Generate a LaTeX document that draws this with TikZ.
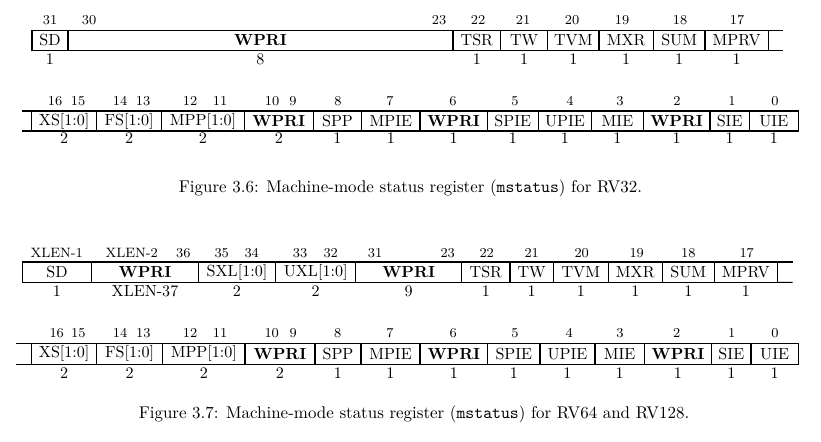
\documentclass[tikz,border=0pt]{standalone}
\usetikzlibrary{calc}
\def\pxu{0.5903}
\newcommand{\fieldfont}{\fontsize{9.5}{11.5}\selectfont}
\tikzset{
  cellbox/.style={draw, line width=0.6pt, inner sep=0pt, outer sep=0pt, font=\fieldfont},
  bitnum/.style={anchor=base, inner sep=0pt, font=\footnotesize},
  widthnum/.style={anchor=base, inner sep=0pt, font=\fieldfont},
  regline/.style={line width=0.6pt},
  captext/.style={anchor=base, inner sep=0pt, font=\normalsize}
}
% name, x1, x2, ytop, ybot, text
\newcommand{\regcell}[6]{%
  \pgfmathsetmacro\rcw{(#3-#2)*\pxu}%
  \pgfmathsetmacro\rch{(#5-#4)*\pxu}%
  \node[cellbox, minimum width=\rcw pt, minimum height=\rch pt] (#1) at ({(#2+#3)/2},{(#4+#5)/2}) {#6};%
}
\begin{document}
\begin{tikzpicture}[x=0.5903pt,y=-0.5903pt]
\useasboundingbox (0,0) rectangle (821,442);

% ===== Figure 3.6, row 1 =====
\def\ta{30.5}\def\bb{50.5}
\regcell{sdA}{32}{68}{\ta}{\bb}{SD}
\regcell{wpriA}{68}{453}{\ta}{\bb}{\textbf{WPRI}}
\regcell{tsrA}{453}{500.7}{\ta}{\bb}{TSR}
\regcell{twA}{500.7}{547.7}{\ta}{\bb}{TW}
\regcell{tvmA}{547.7}{599}{\ta}{\bb}{TVM}
\regcell{mxrA}{599}{653.3}{\ta}{\bb}{MXR}
\regcell{sumA}{653.3}{705}{\ta}{\bb}{SUM}
\regcell{mprvA}{705}{768.3}{\ta}{\bb}{MPRV}
\coordinate (eAt) at (783.3,\ta);
\coordinate (eAb) at (783.3,\bb);
\draw[regline] (mprvA.north east) -- (eAt);
\draw[regline] (mprvA.south east) -- (eAb);
\foreach \x/\t [count=\i] in {50/31, 89/30, 439/23, 478/22, 523/21, 572/20, 622/19, 680/18, 737/17}
  \node[bitnum] (bA\i) at (\x,24.5) {\t};
\foreach \c/\t in {sdA/1, wpriA/8, tsrA/1, twA/1, tvmA/1, mxrA/1, sumA/1, mprvA/1}
  \node[widthnum] (w-\c) at ([yshift=-13.5*\pxu pt]\c.south) {\t};

% ===== Figure 3.6, row 2 =====
\def\ta{111}\def\bb{131}
\regcell{xsA}{31.7}{96.7}{\ta}{\bb}{XS[1:0]}
\regcell{fsA}{96.7}{161.7}{\ta}{\bb}{FS[1:0]}
\regcell{mppA}{161.7}{244.3}{\ta}{\bb}{MPP[1:0]}
\regcell{wpriB}{244.3}{313.3}{\ta}{\bb}{\textbf{WPRI}}
\regcell{sppA}{313.3}{361.7}{\ta}{\bb}{SPP}
\regcell{mpieA}{361.7}{420}{\ta}{\bb}{MPIE}
\regcell{wpriC}{420}{487.3}{\ta}{\bb}{\textbf{WPRI}}
\regcell{spieA}{487.3}{538.3}{\ta}{\bb}{SPIE}
\regcell{upieA}{538.3}{591.7}{\ta}{\bb}{UPIE}
\regcell{mieA}{591.7}{643.3}{\ta}{\bb}{MIE}
\regcell{wpriD}{643.3}{710}{\ta}{\bb}{\textbf{WPRI}}
\regcell{sieA}{710}{749.3}{\ta}{\bb}{SIE}
\regcell{uieA}{749.3}{798.3}{\ta}{\bb}{UIE}
\coordinate (sBt) at (22,\ta);
\coordinate (sBb) at (22,\bb);
\draw[regline] (sBt) -- (xsA.north west);
\draw[regline] (sBb) -- (xsA.south west);
\foreach \x/\t [count=\i] in {55/16, 78/15, 120/14, 143/13, 190/12, 220/11, 272/10, 293/9, 338/8, 390/7, 453/6, 515/5, 570/4, 620/3, 677/2, 732/1, 775/0}
  \node[bitnum] (bB\i) at (\x,105.5) {\t};
\foreach \c/\t in {xsA/2, fsA/2, mppA/2, wpriB/2, sppA/1, mpieA/1, wpriC/1, spieA/1, upieA/1, mieA/1, wpriD/1, sieA/1, uieA/1}
  \node[widthnum] (w-\c) at ([yshift=-12.5*\pxu pt]\c.south) {\t};

\node[captext] (capA) at (410.5,192) {Figure 3.6: Machine-mode status register (\texttt{mstatus}) for RV32.};

% ===== Figure 3.7, row 1 =====
\def\ta{262}\def\bb{282.3}
\regcell{sdB}{22.3}{91.7}{\ta}{\bb}{SD}
\regcell{wpriE}{91.7}{198.3}{\ta}{\bb}{\textbf{WPRI}}
\regcell{sxlB}{198.3}{275.7}{\ta}{\bb}{SXL[1:0]}
\regcell{uxlB}{275.7}{355.7}{\ta}{\bb}{UXL[1:0]}
\regcell{wpriF}{355.7}{461.7}{\ta}{\bb}{\textbf{WPRI}}
\regcell{tsrB}{461.7}{510}{\ta}{\bb}{TSR}
\regcell{twB}{510}{553.3}{\ta}{\bb}{TW}
\regcell{tvmB}{553.3}{608.3}{\ta}{\bb}{TVM}
\regcell{mxrB}{608.3}{662.3}{\ta}{\bb}{MXR}
\regcell{sumB}{662.3}{714.3}{\ta}{\bb}{SUM}
\regcell{mprvB}{714.3}{777.3}{\ta}{\bb}{MPRV}
\coordinate (eCt) at (792.7,\ta);
\coordinate (eCb) at (792.7,\bb);
\draw[regline] (mprvB.north east) -- (eCt);
\draw[regline] (mprvB.south east) -- (eCb);
\foreach \x/\t [count=\i] in {56.7/XLEN-1, 131.7/XLEN-2, 183.3/36, 221.7/35, 251.7/34, 300/33, 330.7/32, 375/31, 447.7/23, 486.7/22, 531.7/21, 581.7/20, 636.7/19, 688.3/18, 746.7/17}
  \node[bitnum] (bC\i) at (\x,257.5) {\t};
\foreach \c/\t in {sdB/1, wpriE/XLEN-37, sxlB/2, uxlB/2, wpriF/9, tsrB/1, twB/1, tvmB/1, mxrB/1, sumB/1, mprvB/1}
  \node[widthnum] (w-\c) at ([yshift=-13.7*\pxu pt]\c.south) {\t};

% ===== Figure 3.7, row 2 =====
\def\ta{343.5}\def\bb{364.3}
\regcell{xsB}{31.7}{96.7}{\ta}{\bb}{XS[1:0]}
\regcell{fsB}{96.7}{162.7}{\ta}{\bb}{FS[1:0]}
\regcell{mppB}{162.7}{245}{\ta}{\bb}{MPP[1:0]}
\regcell{wpriG}{245}{315}{\ta}{\bb}{\textbf{WPRI}}
\regcell{sppB}{315}{361}{\ta}{\bb}{SPP}
\regcell{mpieB}{361}{420}{\ta}{\bb}{MPIE}
\regcell{wpriH}{420}{487.7}{\ta}{\bb}{\textbf{WPRI}}
\regcell{spieB}{487.7}{540}{\ta}{\bb}{SPIE}
\regcell{upieB}{540}{595}{\ta}{\bb}{UPIE}
\regcell{mieB}{595}{644.3}{\ta}{\bb}{MIE}
\regcell{wpriI}{644.3}{711.7}{\ta}{\bb}{\textbf{WPRI}}
\regcell{sieB}{711.7}{751}{\ta}{\bb}{SIE}
\regcell{uieB}{751}{798.3}{\ta}{\bb}{UIE}
\coordinate (sDt) at (16,\ta);
\coordinate (sDb) at (16,\bb);
\draw[regline] (sDt) -- (xsB.north west);
\draw[regline] (sDb) -- (xsB.south west);
\foreach \x/\t [count=\i] in {56.7/16, 78.3/15, 120/14, 143.3/13, 190/12, 220/11, 271.7/10, 293.3/9, 337.7/8, 390/7, 453.3/6, 515/5, 569.3/4, 620/3, 676.7/2, 731.7/1, 775/0}
  \node[bitnum] (bD\i) at (\x,337.5) {\t};
\foreach \c/\t in {xsB/2, fsB/2, mppB/2, wpriG/2, sppB/1, mpieB/1, wpriH/1, spieB/1, upieB/1, mieB/1, wpriI/1, sieB/1, uieB/1}
  \node[widthnum] (w-\c) at ([yshift=-14.2*\pxu pt]\c.south) {\t};

\node[captext] (capB) at (414,418.3) {Figure 3.7: Machine-mode status register (\texttt{mstatus}) for RV64 and RV128.};
\end{tikzpicture}
\end{document}
